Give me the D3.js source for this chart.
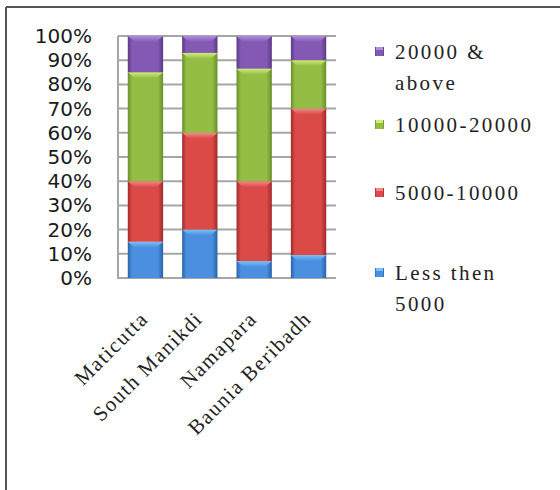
<!DOCTYPE html>
<html lang="en">
<head>
  <meta charset="UTF-8"/>
  <title>Income groups stacked bar</title>
  <script src="https://d3js.org/d3.v7.min.js"></script>
  <style>
    body { margin: 0; background: #fff; }
    .serif { font-family: "Liberation Serif", "DejaVu Serif", serif; }
  </style>
</head>
<body>
<script>

  var w = 560;
  var h = 490;

  // data (percent of households)
  var villages = ["Maticutta", "South Manikdi", "Namapara", "Baunia Beribadh"];
  var seriesNames = ["Less then 5000", "5000-10000", "10000-20000", "20000 & above"];
  var lessThen5000 = [15, 20, 7, 9.5];
  var from5000to10000 = [25, 40, 33, 60.5];
  var from10000to20000 = [45, 33, 46.5, 20];
  var above20000 = [15, 7, 13.5, 10];
  var yTicks = [0, 10, 20, 30, 40, 50, 60, 70, 80, 90, 100];

  var colors = [
    {mid: "#4a8fe0", edge: "#2a62a8", top: "#7cc0f6"},
    {mid: "#dc4a48", edge: "#a22a2a", top: "#f08a88"},
    {mid: "#93bd44", edge: "#6a8f2c", top: "#d2ec76"},
    {mid: "#8459b4", edge: "#5b3a86", top: "#b08ee0"}
  ];

  var table = villages.map(function(v, i) {
    return {
      name: v,
      s0: lessThen5000[i],
      s1: from5000to10000[i],
      s2: from10000to20000[i],
      s3: above20000[i]
    };
  });
  var stack = d3.stack().keys(["s0", "s1", "s2", "s3"])(table);

  var plot = {left: 118, right: 336, top: 36, bottom: 278};

  var xScale = d3.scaleBand()
    .domain(villages)
    .range([plot.left, plot.right])
    .paddingInner(0.35)
    .paddingOuter(0.18);

  var yScale = d3.scaleLinear()
    .domain([0, 100])
    .range([plot.bottom, plot.top]);

  var svg = d3.select("body")
    .append("svg")
    .attr("width", w)
    .attr("height", h);

  var defs = svg.append("defs");
  colors.forEach(function(c, i) {
    var g = defs.append("linearGradient")
      .attr("id", "body" + i)
      .attr("x1", 0).attr("x2", 1).attr("y1", 0).attr("y2", 0);
    g.append("stop").attr("offset", "0%").attr("stop-color", c.edge);
    g.append("stop").attr("offset", "12%").attr("stop-color", c.mid);
    g.append("stop").attr("offset", "85%").attr("stop-color", c.mid);
    g.append("stop").attr("offset", "100%").attr("stop-color", c.edge);
    var t = defs.append("linearGradient")
      .attr("id", "top" + i)
      .attr("x1", 0).attr("x2", 0).attr("y1", 0).attr("y2", 1);
    t.append("stop").attr("offset", "0%").attr("stop-color", c.top);
    t.append("stop").attr("offset", "100%").attr("stop-color", c.mid);
  });

  // frame (only top and left edges show)
  svg.append("line")
    .attr("x1", 6).attr("x2", w).attr("y1", 7).attr("y2", 7)
    .attr("stroke", "#555").attr("stroke-width", 2);
  svg.append("line")
    .attr("x1", 6).attr("x2", 6).attr("y1", 7).attr("y2", h)
    .attr("stroke", "#555").attr("stroke-width", 2);

  // grid
  svg.append("g")
    .selectAll("line")
    .data(yTicks)
    .enter()
    .append("line")
    .attr("x1", plot.left)
    .attr("x2", plot.right)
    .attr("y1", function(d) { return yScale(d); })
    .attr("y2", function(d) { return yScale(d); })
    .attr("stroke", "#a6a6a6")
    .attr("stroke-width", 2);
  svg.append("line")
    .attr("x1", plot.left).attr("x2", plot.left)
    .attr("y1", plot.top).attr("y2", plot.bottom + 1)
    .attr("stroke", "#a6a6a6").attr("stroke-width", 2);

  // y axis labels
  var yAxis = d3.axisLeft(yScale)
    .tickValues(yTicks)
    .tickSize(0)
    .tickPadding(26)
    .tickFormat(function(d) { return d + "%"; });
  var yg = svg.append("g")
    .attr("transform", "translate(" + plot.left + ",0)")
    .call(yAxis);
  yg.select(".domain").remove();
  yg.selectAll("text")
    .attr("font-family", "DejaVu Sans")
    .attr("font-size", "20px")
    .attr("fill", "#1a1a1a");

  // bars
  var bw = xScale.bandwidth();
  stack.forEach(function(layer, i) {
    var g = svg.append("g");
    g.selectAll("rect")
      .data(layer)
      .enter()
      .append("rect")
      .attr("x", function(d) { return xScale(d.data.name); })
      .attr("y", function(d) { return yScale(d[1]); })
      .attr("width", bw)
      .attr("height", function(d) { return yScale(d[0]) - yScale(d[1]); })
      .attr("fill", "url(#body" + i + ")");
    // bevel on top of each segment
    g.selectAll("path")
      .data(layer)
      .enter()
      .append("path")
      .attr("d", function(d) {
        var x0 = xScale(d.data.name);
        var y0 = yScale(d[1]);
        var bh = Math.min(6, (yScale(d[0]) - y0) / 2);
        return "M" + x0 + "," + y0 + "H" + (x0 + bw) +
          "L" + (x0 + bw - 7) + "," + (y0 + bh) + "H" + (x0 + 7) + "Z";
      })
      .attr("fill", "url(#top" + i + ")");
  });

  // x labels
  svg.append("g")
    .selectAll("text")
    .data(villages)
    .enter()
    .append("text")
    .attr("class", "serif")
    .attr("transform", function(d) {
      return "translate(" + (xScale(d) + bw / 2 + 4) + "," + (plot.bottom + 42) + ") rotate(-45)";
    })
    .attr("text-anchor", "end")
    .attr("font-size", "21px")
    .attr("letter-spacing", "1.5px")
    .attr("fill", "#222")
    .text(function(d) { return d; });

  // legend
  var legendRows = [
    {i: 3, y: 52, lines: ["20000 &", "above"]},
    {i: 2, y: 125, lines: ["10000-20000"]},
    {i: 1, y: 193, lines: ["5000-10000"]},
    {i: 0, y: 273, lines: ["Less then", "5000"]}
  ];
  var legend = svg.append("g")
    .selectAll("g")
    .data(legendRows)
    .enter()
    .append("g")
    .attr("transform", function(d) { return "translate(375," + d.y + ")"; });
  legend.append("rect")
    .attr("x", 0).attr("y", -5)
    .attr("width", 9).attr("height", 9)
    .attr("fill", function(d) { return "url(#body" + d.i + ")"; });
  legend.append("rect")
    .attr("x", 1).attr("y", -5)
    .attr("width", 7).attr("height", 3)
    .attr("fill", function(d) { return colors[d.i].top; });
  legend.append("text")
    .attr("class", "serif")
    .attr("x", 20)
    .attr("font-size", "21px")
    .attr("letter-spacing", "2.4px")
    .attr("fill", "#222")
    .selectAll("tspan")
    .data(function(d) { return d.lines; })
    .enter()
    .append("tspan")
    .attr("x", 20)
    .attr("y", function(d, j) { return 7 + j * 31; })
    .text(function(d) { return d; });

</script>
</body>
</html>
